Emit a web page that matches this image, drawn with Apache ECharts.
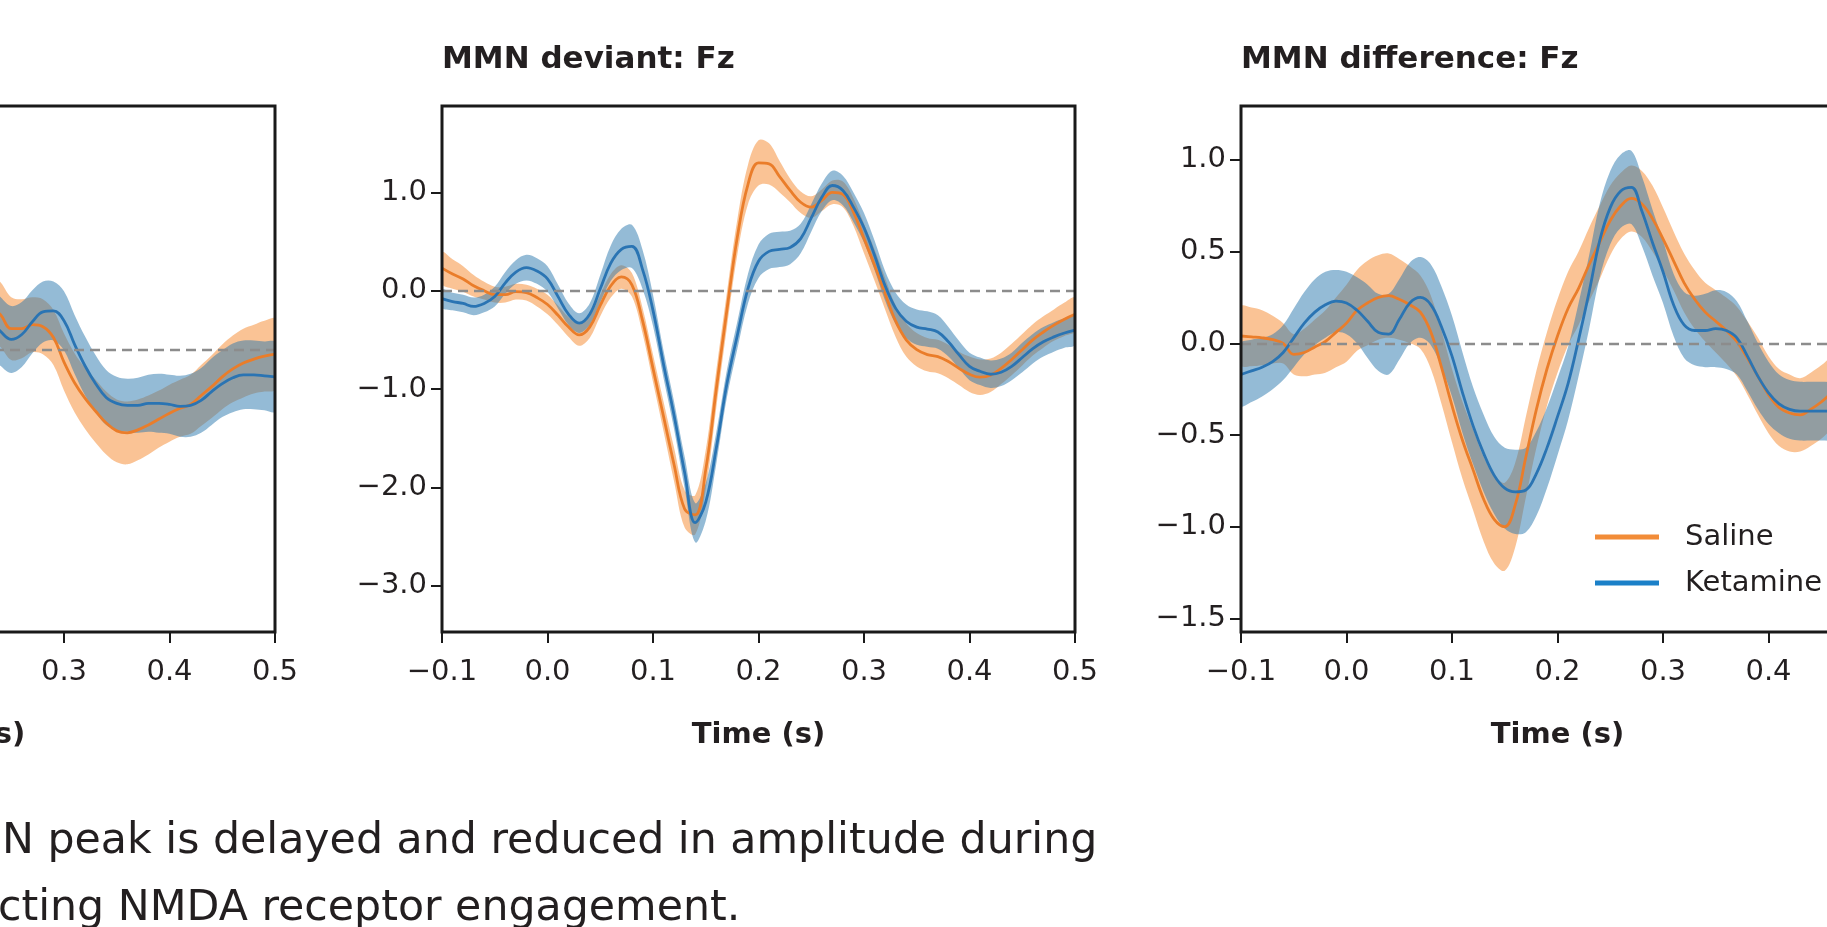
<!DOCTYPE html>
<html>
<head>
<meta charset="utf-8">
<title>MMN Fz</title>
<script src="https://cdn.jsdelivr.net/npm/echarts@6/dist/echarts.min.js"></script>
<style>
  html, body { margin: 0; padding: 0; background: #fff; overflow: hidden; width: 1827px; height: 927px; }
  /* the figure is a crop of a wider one: shift a wider canvas left */
  #chart { position: absolute; left: -400px; top: 0; width: 2300px; height: 927px; }
</style>
</head>
<body>
<div id="chart"></div>
<script>
// panel 1 is cut off on the left, only its tail end shows
const time1 = [0.23,0.24,0.25,0.26,0.27,0.28,0.29,0.30,0.31,0.32,0.33,0.34,0.35,0.36,0.37,0.38,0.39,0.40,0.41,0.42,0.43,0.44,0.45,0.46,0.47,0.48,0.49,0.50]
const saline1 = [0.45,0.35,0.21,0.21,0.25,0.23,0.12,-0.13,-0.34,-0.50,-0.63,-0.75,-0.83,-0.85,-0.82,-0.77,-0.71,-0.65,-0.60,-0.56,-0.47,-0.38,-0.28,-0.20,-0.14,-0.10,-0.07,-0.05]
const salineSem1 = [0.33,0.33,0.32,0.30,0.28,0.28,0.28,0.29,0.30,0.31,0.32,0.32,0.32,0.32,0.31,0.30,0.29,0.29,0.29,0.30,0.31,0.32,0.33,0.34,0.35,0.35,0.36,0.36]
const ketamine1 = [0.30,0.18,0.10,0.15,0.28,0.38,0.39,0.29,0.05,-0.17,-0.35,-0.49,-0.55,-0.57,-0.57,-0.55,-0.55,-0.56,-0.58,-0.57,-0.52,-0.43,-0.35,-0.29,-0.26,-0.26,-0.27,-0.28]
const ketamineSem1 = [0.35,0.35,0.34,0.33,0.32,0.31,0.30,0.30,0.30,0.30,0.29,0.28,0.27,0.27,0.28,0.29,0.30,0.30,0.31,0.32,0.33,0.34,0.34,0.35,0.35,0.35,0.35,0.35]

// panel 2: MMN deviant
const time2 = [-0.10,-0.09,-0.08,-0.07,-0.06,-0.05,-0.04,-0.03,-0.02,-0.01,0.00,0.01,0.02,0.03,0.04,0.05,0.06,0.07,0.08,0.09,0.10,0.11,0.12,0.13,0.14,0.15,0.16,0.17,0.18,0.19,0.20,0.21,0.22,0.23,0.24,0.25,0.26,0.27,0.28,0.29,0.30,0.31,0.32,0.33,0.34,0.35,0.36,0.37,0.38,0.39,0.40,0.41,0.42,0.43,0.44,0.45,0.46,0.47,0.48,0.49,0.50]
const saline2 = [0.23,0.17,0.12,0.05,0.00,-0.04,-0.04,-0.01,-0.02,-0.07,
  -0.14,-0.25,-0.37,-0.45,-0.37,-0.15,0.05,0.14,0.06,-0.30,
  -0.79,-1.28,-1.77,-2.22,-2.28,-1.82,-1.00,-0.20,0.55,1.08,
  1.30,1.29,1.16,1.02,0.90,0.85,0.92,1.00,0.98,0.80,
  0.53,0.26,-0.03,-0.31,-0.50,-0.60,-0.65,-0.67,-0.72,-0.79,
  -0.85,-0.88,-0.86,-0.79,-0.70,-0.60,-0.50,-0.42,-0.35,-0.29,
  -0.24]
const salineSem2 = [0.16,0.15,0.13,0.11,0.09,0.08,0.08,0.08,0.08,0.09,
  0.10,0.10,0.10,0.11,0.11,0.11,0.12,0.12,0.12,0.13,
  0.14,0.15,0.17,0.19,0.20,0.20,0.19,0.18,0.18,0.20,
  0.23,0.21,0.16,0.12,0.11,0.11,0.11,0.12,0.13,0.14,
  0.15,0.16,0.16,0.16,0.17,0.17,0.17,0.17,0.17,0.17,
  0.18,0.18,0.17,0.16,0.16,0.16,0.16,0.16,0.16,0.17,
  0.17]
const ketamine2 = [-0.08,-0.11,-0.13,-0.16,-0.13,-0.06,0.08,0.19,0.235,0.20,
  0.12,-0.06,-0.24,-0.33,-0.24,0.02,0.28,0.42,0.45,0.22,
  -0.20,-0.75,-1.27,-1.85,-2.36,-2.15,-1.60,-0.95,-0.45,0.02,
  0.30,0.40,0.42,0.44,0.53,0.74,0.95,1.07,1.02,0.85,
  0.64,0.36,0.05,-0.18,-0.31,-0.37,-0.39,-0.42,-0.52,-0.65,
  -0.77,-0.82,-0.85,-0.83,-0.77,-0.68,-0.59,-0.52,-0.47,-0.43,
  -0.40]
const ketamineSem2 = [0.09,0.09,0.09,0.09,0.09,0.10,0.11,0.12,0.13,0.13,
  0.13,0.12,0.11,0.10,0.11,0.14,0.18,0.21,0.22,0.20,
  0.16,0.14,0.14,0.16,0.20,0.19,0.16,0.14,0.14,0.15,
  0.17,0.18,0.18,0.17,0.15,0.14,0.14,0.15,0.15,0.15,
  0.15,0.15,0.15,0.16,0.17,0.18,0.18,0.17,0.15,0.14,
  0.14,0.14,0.14,0.14,0.14,0.15,0.15,0.15,0.15,0.15,
  0.15]

// panel 3: MMN difference (runs past the right edge)
const time3 = [-0.10,-0.09,-0.08,-0.07,-0.06,-0.05,-0.04,-0.03,-0.02,-0.01,0.00,0.01,0.02,0.03,0.04,0.05,0.06,0.07,0.08,0.09,0.10,0.11,0.12,0.13,0.14,0.15,0.16,0.17,0.18,0.19,0.20,0.21,0.22,0.23,0.24,0.25,0.26,0.27,0.28,0.29,0.30,0.31,0.32,0.33,0.34,0.35,0.36,0.37,0.38,0.39,0.40,0.41,0.42,0.43,0.44,0.45,0.46,0.47]
const saline3 = [0.04,0.035,0.03,0.02,0.00,-0.06,-0.05,-0.02,0.01,0.06,
  0.11,0.18,0.22,0.25,0.26,0.24,0.21,0.17,0.06,-0.13,
  -0.34,-0.53,-0.69,-0.85,-0.96,-1.00,-0.88,-0.62,-0.36,-0.14,
  0.04,0.19,0.30,0.43,0.55,0.67,0.75,0.79,0.76,0.68,
  0.57,0.45,0.33,0.24,0.17,0.12,0.07,0.01,-0.08,-0.18,
  -0.28,-0.35,-0.38,-0.39,-0.36,-0.32,-0.27,-0.23]
const salineSem3 = [0.16,0.16,0.15,0.13,0.11,0.11,0.13,0.15,0.17,0.19,
  0.21,0.22,0.23,0.23,0.23,0.22,0.21,0.20,0.20,0.20,
  0.20,0.21,0.22,0.23,0.24,0.24,0.23,0.22,0.21,0.20,
  0.20,0.20,0.20,0.20,0.20,0.19,0.18,0.18,0.18,0.18,
  0.17,0.16,0.16,0.16,0.16,0.17,0.18,0.19,0.20,0.21,
  0.21,0.21,0.21,0.20,0.20,0.20,0.20,0.20]
const ketamine3 = [-0.17,-0.15,-0.13,-0.10,-0.05,0.03,0.11,0.17,0.21,0.23,
  0.22,0.18,0.12,0.06,0.05,0.13,0.22,0.25,0.21,0.09,
  -0.07,-0.27,-0.45,-0.60,-0.72,-0.79,-0.81,-0.80,-0.71,-0.57,
  -0.40,-0.22,0.02,0.28,0.56,0.74,0.83,0.85,0.72,0.55,
  0.39,0.21,0.10,0.07,0.07,0.08,0.07,0.03,-0.07,-0.18,
  -0.27,-0.33,-0.36,-0.37,-0.37,-0.37,-0.37,-0.36]
const ketamineSem3 = [0.17,0.17,0.16,0.15,0.15,0.16,0.17,0.18,0.18,0.17,
  0.17,0.18,0.20,0.21,0.22,0.22,0.22,0.22,0.22,0.22,
  0.22,0.22,0.21,0.21,0.21,0.22,0.23,0.23,0.23,0.22,
  0.21,0.20,0.20,0.20,0.20,0.20,0.20,0.20,0.19,0.18,
  0.17,0.17,0.18,0.19,0.20,0.21,0.21,0.20,0.19,0.18,
  0.17,0.16,0.16,0.16,0.16,0.16,0.16,0.16]

const yTicks1 = [-2, -1, 0, 1, 2]
const yTicks2 = [-3, -2, -1, 0, 1]
const yTicks3 = [-1.5, -1, -0.5, 0, 0.5, 1]
const titles = ['MMN standard: Fz', 'MMN deviant: Fz', 'MMN difference: Fz']
const legendNames = ['Saline', 'Ketamine']
const caption = [
  'N peak is delayed and reduced in amplitude during',
  'cting NMDA receptor engagement.'
]

const SHIFT = 400 // page x = chart x - SHIFT
const FONT = '"DejaVu Sans", sans-serif'
const INK = '#231f20'
const ORANGE = '#ea7d2a'
const BLUE = '#2a74b3'

const panels = [
  { t: time1, sal: saline1, salSem: salineSem1, ket: ketamine1, ketSem: ketamineSem1,
    yMin: -2.876, yMax: 2.475, yTicks: yTicks1, left: -358 },
  { t: time2, sal: saline2, salSem: salineSem2, ket: ketamine2, ketSem: ketamineSem2,
    yMin: -3.472, yMax: 1.879, yTicks: yTicks2, left: 442 },
  { t: time3, sal: saline3, salSem: salineSem3, ket: ketamine3, ketSem: ketamineSem3,
    yMin: -1.574, yMax: 1.294, yTicks: yTicks3, left: 1241 }
]

function fmt(v) {
  const s = Math.abs(v).toFixed(1)
  return v < -1e-9 ? '\u2212' + s : s
}

// shaded mean +/- sem band drawn as one polygon through the axis scales
function band(i, name, t, mean, sem, color) {
  return {
    type: 'custom', name: name + ' band', xAxisIndex: i, yAxisIndex: i,
    silent: true, clip: true,
    data: t.map((x, k) => [x, mean[k] - sem[k], mean[k] + sem[k]]),
    encode: { x: 0, y: [1, 2] },
    renderItem: function (params, api) {
      if (params.dataIndex !== 0) return
      const pts = []
      for (let k = 0; k < t.length; k++) pts.push(api.coord([t[k], mean[k] + sem[k]]))
      for (let k = t.length - 1; k >= 0; k--) pts.push(api.coord([t[k], mean[k] - sem[k]]))
      return {
        type: 'polygon',
        shape: { points: pts, smooth: 0.35 },
        style: { fill: color, opacity: 0.5 }
      }
    }
  }
}

function meanLine(i, name, t, mean, color, zero) {
  const s = {
    type: 'line', name: name, xAxisIndex: i, yAxisIndex: i,
    data: t.map((x, k) => [x, mean[k]]),
    symbol: 'none', smooth: 0.4, silent: true,
    lineStyle: { color: color, width: 2.8 },
    itemStyle: { color: color }
  }
  if (zero) {
    s.markLine = {
      silent: true, symbol: ['none', 'none'], label: { show: false },
      lineStyle: { color: '#8c8c8c', type: [10, 6], width: 2.4 },
      data: [{ yAxis: 0 }]
    }
  }
  return s
}

const grid = [], xAxis = [], yAxis = [], series = [], title = []
panels.forEach((p, i) => {
  grid.push({
    left: p.left + SHIFT, top: 106, width: 633, height: 526,
    outerBoundsMode: 'none',
    show: true, borderColor: '#1a1a1a', borderWidth: 3, z: 10
  })
  xAxis.push({
    type: 'value', gridIndex: i, min: -0.1, max: 0.5, interval: 0.1,
    name: 'Time (s)', nameLocation: 'middle', nameGap: 89,
    nameTextStyle: { fontFamily: FONT, fontWeight: 'bold', fontSize: 29, color: INK },
    axisLine: { show: false, onZero: false },
    axisTick: { show: true, length: 11, lineStyle: { color: '#1a1a1a', width: 2 } },
    axisLabel: { fontFamily: FONT, fontSize: 29, color: INK, margin: 26, formatter: fmt },
    splitLine: { show: false }
  })
  yAxis.push({
    type: 'value', gridIndex: i, min: p.yMin, max: p.yMax,
    axisLine: { show: false, onZero: false },
    axisTick: { show: true, length: 11, customValues: p.yTicks, lineStyle: { color: '#1a1a1a', width: 2 } },
    axisLabel: { fontFamily: FONT, fontSize: 29, color: INK, margin: 15, customValues: p.yTicks, formatter: fmt },
    splitLine: { show: false }
  })
  title.push({
    text: titles[i], left: p.left + SHIFT, top: 44, padding: 0,
    textStyle: { fontFamily: FONT, fontWeight: 'bold', fontSize: 31, color: INK }
  })
  series.push(band(i, 'Saline', p.t, p.sal, p.salSem, '#f5882c'))
  series.push(band(i, 'Ketamine', p.t, p.ket, p.ketSem, '#2a77ae'))
  series.push(meanLine(i, 'Saline', p.t, p.sal, ORANGE, true))
  series.push(meanLine(i, 'Ketamine', p.t, p.ket, BLUE, false))
})

const chart = echarts.init(document.getElementById('chart'), null, { renderer: 'canvas' })
chart.setOption({
  animation: false,
  backgroundColor: '#ffffff',
  title: title,
  grid: grid,
  xAxis: xAxis,
  yAxis: yAxis,
  legend: {
    data: [
      { name: legendNames[0], itemStyle: { color: '#f28c38' } },
      { name: legendNames[1], itemStyle: { color: '#1b80c8' } }
    ],
    orient: 'vertical', left: 1595 + SHIFT, top: 522, padding: 0,
    icon: 'rect', itemWidth: 64, itemHeight: 5, itemGap: 16,
    selectedMode: false,
    textStyle: { fontFamily: FONT, fontSize: 29, color: INK, lineHeight: 30, padding: [0, 0, 0, 21] }
  },
  graphic: [
    { type: 'text', left: 2 + SHIFT, top: 820, style: { text: caption[0], font: '42.7px "DejaVu Sans"', fill: INK } },
    { type: 'text', left: -2 + SHIFT, top: 887, style: { text: caption[1], font: '42.7px "DejaVu Sans"', fill: INK } }
  ],
  series: series
})
</script>
</body>
</html>
